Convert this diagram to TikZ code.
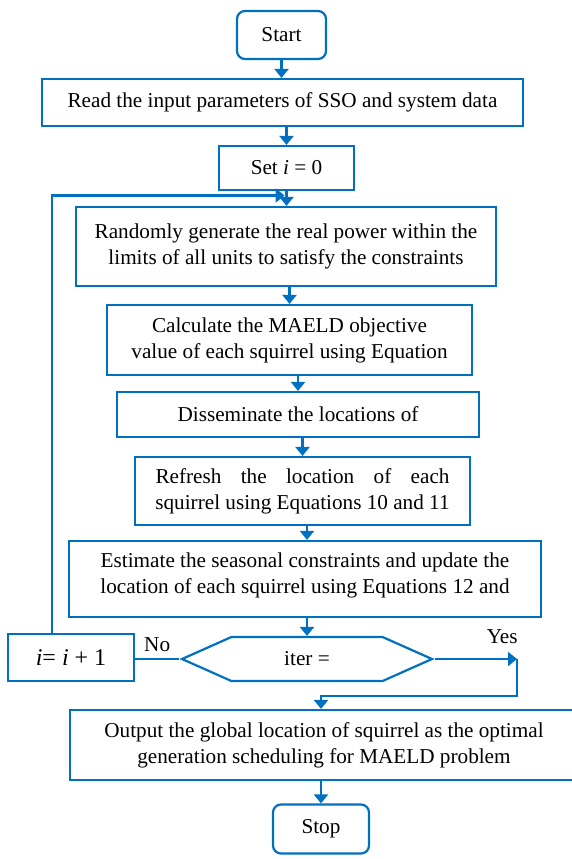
\documentclass[tikz,border=0pt]{standalone}
\usepackage{fontspec}
\setmainfont{Liberation Serif}
\usetikzlibrary{arrows.meta,shapes.symbols}
\definecolor{flowblue}{RGB}{0,112,192}

\begin{document}
\begin{tikzpicture}[x=0.5pt,y=-0.5pt,font=\fontsize{10.6}{13}\selectfont,
  box/.style={draw=flowblue,line width=1.1pt,align=center,inner sep=0pt},
  term/.style={box,rounded corners=4pt},
  test/.style={box,shape=signal,signal to=west and east,signal pointer angle=48},
  flow/.style={draw=flowblue,line width=1.1pt,-{Triangle[length=4.5pt,width=7pt]}},
  link/.style={draw=flowblue,line width=1.1pt},
  tag/.style={inner sep=1pt}]

\useasboundingbox (0,0) rectangle (572,859);

\node[term,minimum width= 44.5pt,minimum height=24  pt] (Start)    at (281.5, 35  ) {Start};
\node[box, minimum width=240.5pt,minimum height=23.5pt] (ReadData) at (282.5,102.5) {Read the input parameters of SSO and system data};
\node[box, minimum width= 67.5pt,minimum height=22  pt] (SetI)     at (286.5,168  ) {Set \textit{i} = 0};
\node[box, minimum width=210  pt,minimum height=39.5pt] (Random)   at (286  ,246.5) {Randomly generate the real power within the\\ limits of all units to satisfy the constraints};
\node[box, minimum width=182.5pt,minimum height=35  pt] (Calc)     at (289.5,340  ) {Calculate the MAELD objective\\ value of each squirrel using Equation};
\node[box, minimum width=181  pt,minimum height=22.5pt] (Spread)   at (298  ,414.5) {Disseminate the locations of};
\node[box, minimum width=167.5pt,minimum height=34  pt] (Refresh)  at (302.5,491  ) {\hbox to 147pt{Refresh\hfill the\hfill location\hfill of\hfill each}\\ squirrel using Equations 10 and 11};
\node[box, minimum width=236  pt,minimum height=38  pt,text depth=6pt]
                                                        (Season)   at (305  ,579  ) {Estimate the seasonal constraints and update the\\ location of each squirrel using Equations 12 and};
\node[test,minimum width=125  pt,minimum height=22  pt] (Check)    at (307  ,659  ) {iter =};
\node[box, minimum width= 63  pt,minimum height=23.5pt,font=\fontsize{12}{14}\selectfont]
                                                        (IncI)     at ( 71  ,657.5) {\textit{i}= \textit{i} + 1};
\node[box, minimum width=254  pt,minimum height=35  pt] (Output)   at (324  ,745  ) {Output the global location of squirrel as the optimal\\ generation scheduling for MAELD problem};
\node[term,minimum width= 48  pt,minimum height=24.5pt] (Stop)     at (321  ,829  ) {Stop};

\coordinate (LoopTop) at ( 52,195.5);
\coordinate (YesEnd)  at (517,659  );
\coordinate (YesDown) at (517,696  );

\draw[flow] (Start) -- (Start |- ReadData.north);
\draw[flow] (ReadData.south -| SetI) -- (SetI.north);
\draw[flow] (SetI.south) -- (SetI.south |- Random.north);
\draw[flow] (Random.south -| Calc) -- (Calc.north);
\draw[flow] (Calc.south -| Spread) -- (Spread.north);
\draw[flow] (Spread.south -| Refresh) -- (Refresh.north);
\draw[flow] (Refresh.south -| Check) -- (Season.north -| Check);
\draw[flow] (Season.south -| Check) -- (Check.north);

% no: back to the top of the loop
\draw[link] (Check.west) -- (Check.west -| IncI.east) node[tag,midway,above=2pt] {No};
\draw[flow] (IncI.north -| LoopTop) -- (LoopTop) -- ([xshift=-1pt]LoopTop -| SetI.south);

% yes: leave the loop
\draw[flow] (Check.east) -- (YesEnd) node[tag,pos=0.82,above=6pt] {Yes};
\draw[flow] (YesEnd) -- (YesDown) -- (YesDown -| Stop) -- (Output.north -| Stop);
\draw[flow] (Output.south -| Stop) -- (Stop.north);
\end{tikzpicture}
\end{document}
